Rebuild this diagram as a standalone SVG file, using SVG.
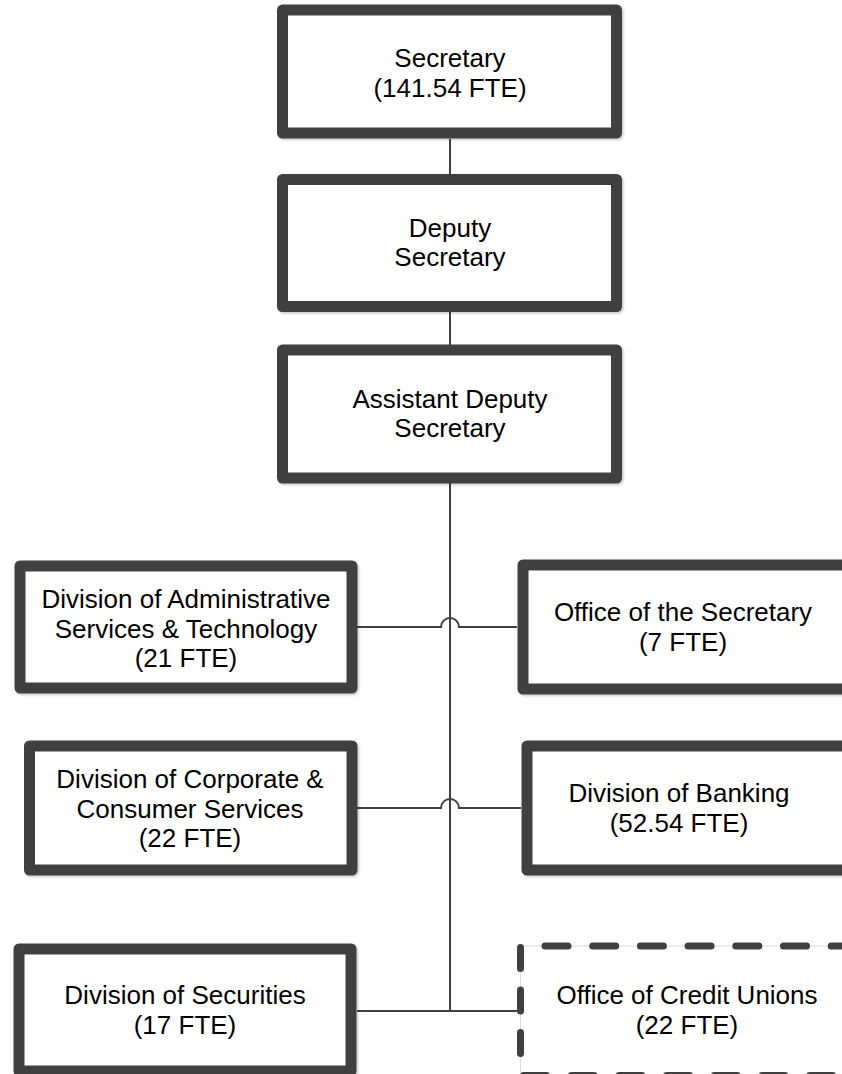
<svg xmlns="http://www.w3.org/2000/svg" width="842" height="1074" viewBox="0 0 842 1074">
  <defs>
    <filter id="shadow" x="-5%" y="-5%" width="112%" height="115%">
      <feDropShadow dx="1.5" dy="1.5" stdDeviation="1" flood-color="#000000" flood-opacity="0.22"/>
    </filter>
  </defs>
  <style>
    .box { fill: #ffffff; stroke: #404040; stroke-width: 11; stroke-linejoin: round; filter: url(#shadow); }
    .dbox { fill: #ffffff; stroke: #dcdcdc; stroke-width: 1; }
    .dash { fill: none; stroke: #404040; stroke-width: 7; stroke-linecap: round; }
    .conn { fill: none; stroke: #404040; stroke-width: 2; }
    .t { font-family: "Liberation Sans", Arial, sans-serif; font-size: 26px; fill: #000000; text-anchor: middle; }
  </style>
  <rect width="842" height="1074" fill="#ffffff"/>

  <g id="connectors">
    <path class="conn" d="M450 139 V174"/>
    <path class="conn" d="M450 312 V345"/>
    <path class="conn" d="M450 483 V1011"/>
    <path class="conn" d="M357 627 H441 A9 9 0 0 1 459 627 H517"/>
    <path class="conn" d="M357 808 H441 A9 9 0 0 1 459 808 H521"/>
    <path class="conn" d="M357 1011 H517"/>
  </g>

  <g id="secretary">
    <rect class="box" x="282.5" y="10" width="334" height="123"/>
    <text class="t" x="450" y="66.5">Secretary</text>
    <text class="t" x="450" y="96.5">(141.54 FTE)</text>
  </g>

  <g id="deputy-secretary">
    <rect class="box" x="282.5" y="179.5" width="334" height="127"/>
    <text class="t" x="450" y="236.5">Deputy</text>
    <text class="t" x="450" y="265.5">Secretary</text>
  </g>

  <g id="assistant-deputy-secretary">
    <rect class="box" x="282.5" y="350" width="334" height="128"/>
    <text class="t" x="450" y="407.5">Assistant Deputy</text>
    <text class="t" x="450" y="436.5">Secretary</text>
  </g>

  <g id="admin-services">
    <rect class="box" x="20" y="566" width="332" height="122"/>
    <text class="t" x="186" y="608">Division of Administrative</text>
    <text class="t" x="186" y="637.5">Services &amp; Technology</text>
    <text class="t" x="186" y="667">(21 FTE)</text>
  </g>

  <g id="office-of-secretary">
    <rect class="box" x="523" y="565" width="330" height="124"/>
    <text class="t" x="683" y="621">Office of the Secretary</text>
    <text class="t" x="683" y="650.5">(7 FTE)</text>
  </g>

  <g id="corporate-consumer">
    <rect class="box" x="29.5" y="746" width="322.5" height="124"/>
    <text class="t" x="190" y="788">Division of Corporate &amp;</text>
    <text class="t" x="190" y="817.5">Consumer Services</text>
    <text class="t" x="190" y="847">(22 FTE)</text>
  </g>

  <g id="banking">
    <rect class="box" x="527" y="746" width="330" height="124"/>
    <text class="t" x="679" y="802">Division of Banking</text>
    <text class="t" x="679" y="831.5">(52.54 FTE)</text>
  </g>

  <g id="securities">
    <rect class="box" x="19" y="949" width="332" height="122"/>
    <text class="t" x="185" y="1004">Division of Securities</text>
    <text class="t" x="185" y="1033.5">(17 FTE)</text>
  </g>

  <g id="credit-unions">
    <rect class="dbox" x="520.5" y="946" width="340" height="129"/>
    <path class="dash" d="M545 946 H870" stroke-dasharray="23 24.7"/>
    <path class="dash" d="M520.5 947.5 V1075" stroke-dasharray="21 21.5"/>
    <path class="dash" d="M523.5 1075.5 H870" stroke-dasharray="23 24.7"/>
    <text class="t" x="687" y="1004">Office of Credit Unions</text>
    <text class="t" x="687" y="1033.5">(22 FTE)</text>
  </g>
</svg>
